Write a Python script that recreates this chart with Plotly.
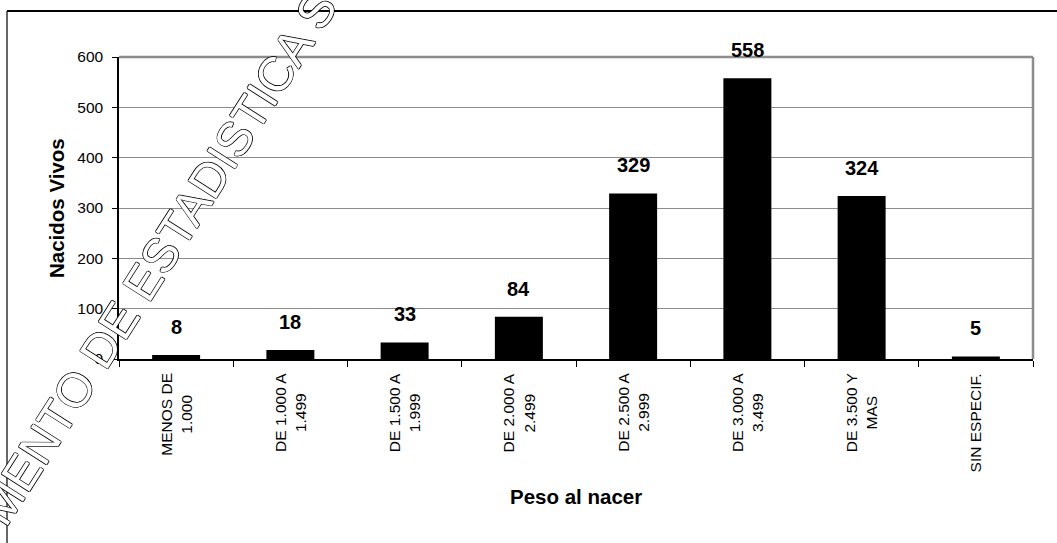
import plotly.graph_objects as go

categorias = ["MENOS DE<br>1.000", "DE 1.000 A<br>1.499", "DE 1.500 A<br>1.999", "DE 2.000 A<br>2.499",
              "DE 2.500 A<br>2.999", "DE 3.000 A<br>3.499", "DE 3.500 Y<br>MAS", "SIN ESPECIF."]
nacidos_vivos = [8, 18, 33, 84, 329, 558, 324, 5]
y_ticks = [0, 100, 200, 300, 400, 500, 600]
titulo_x = "Peso al nacer"
titulo_y = "Nacidos Vivos"
marca_agua = "MENTO DE ESTADISTICA S"

FONT = "Arial, Liberation Sans, sans-serif"
W, H = 1057, 543
L, R, T, B = 119, 24, 57, 184
PW, PH = W - L - R, H - T - B

def px_x(p):
    return (p - L) / PW

def px_y(p):
    return (H - B - p) / PH

fig = go.Figure()
fig.add_trace(go.Bar(
    x=categorias, y=nacidos_vivos, width=0.42,
    marker=dict(color="black", line=dict(width=0)),
    hoverinfo="skip",
))

annotations = []
for c, v in zip(categorias, nacidos_vivos):
    annotations.append(dict(
        x=c, y=v, xref="x", yref="y", text=str(v), showarrow=False,
        yanchor="bottom", yshift=15,
        font=dict(family=FONT, size=20, color="black", weight="bold"),
    ))
    annotations.append(dict(
        x=c, y=0, xref="x", yref="paper", text=c, showarrow=False,
        textangle=-90, xanchor="center", yanchor="top", yshift=-12, align="center",
        font=dict(family=FONT, size=15.5, color="black"),
    ))

annotations.append(dict(
    x=0.5, y=px_y(497), xref="paper", yref="paper", text=titulo_x, showarrow=False,
    xanchor="center", yanchor="middle",
    font=dict(family=FONT, size=20.5, color="black", weight="bold"),
))
annotations.append(dict(
    x=px_x(56), y=0.5, xref="paper", yref="paper", text=titulo_y, showarrow=False,
    textangle=-90, xanchor="center", yanchor="middle",
    font=dict(family=FONT, size=20.5, color="black", weight="bold"),
))
annotations.append(dict(
    x=px_x(158), y=px_y(258), xref="paper", yref="paper", text=marca_agua, showarrow=False,
    textangle=-57.5, xanchor="center", yanchor="middle",
    font=dict(family=FONT, size=48, color="white",
              shadow="0.8px 0 0 #000, -0.8px 0 0 #000, 0 0.8px 0 #000, 0 -0.8px 0 #000"),
))

shapes = [
    # outer frame
    dict(type="line", xref="paper", yref="paper", x0=px_x(7), y0=px_y(11), x1=px_x(1100), y1=px_y(11),
         line=dict(color="black", width=2), layer="below"),
    dict(type="line", xref="paper", yref="paper", x0=px_x(7), y0=px_y(11), x1=px_x(7), y1=px_y(600),
         line=dict(color="black", width=1.2), layer="below"),
    # top and right plot border (gray)
    dict(type="line", xref="paper", yref="paper", x0=0, y0=1, x1=1, y1=1,
         line=dict(color="#8c8c8c", width=2.5), layer="below"),
    dict(type="line", xref="paper", yref="paper", x0=1, y0=0, x1=1, y1=1,
         line=dict(color="#8c8c8c", width=2.5), layer="below"),
]

fig.update_layout(
    width=W, height=H,
    margin=dict(l=L, r=R, t=T, b=B, pad=0),
    paper_bgcolor="white", plot_bgcolor="white",
    showlegend=False,
    annotations=annotations,
    shapes=shapes,
    xaxis=dict(
        type="category", tickson="boundaries", ticks="outside", ticklen=6, tickcolor="black",
        showticklabels=False, showline=True, linecolor="black", linewidth=1.5,
        showgrid=False, zeroline=False, fixedrange=True,
    ),
    yaxis=dict(
        range=[0, 600], tickvals=y_ticks, ticks="outside", ticklen=5, tickcolor="black",
        showline=True, linecolor="black", linewidth=1.5,
        showgrid=True, gridcolor="#8c8c8c", gridwidth=1, zeroline=False,
        tickfont=dict(family=FONT, size=15.5, color="black"),
        ticklabelstandoff=6, fixedrange=True,
    ),
)

fig.write_html("out.html", config={"displayModeBar": False},
               post_script="document.body.style.margin='0';document.body.style.overflow='hidden';")
